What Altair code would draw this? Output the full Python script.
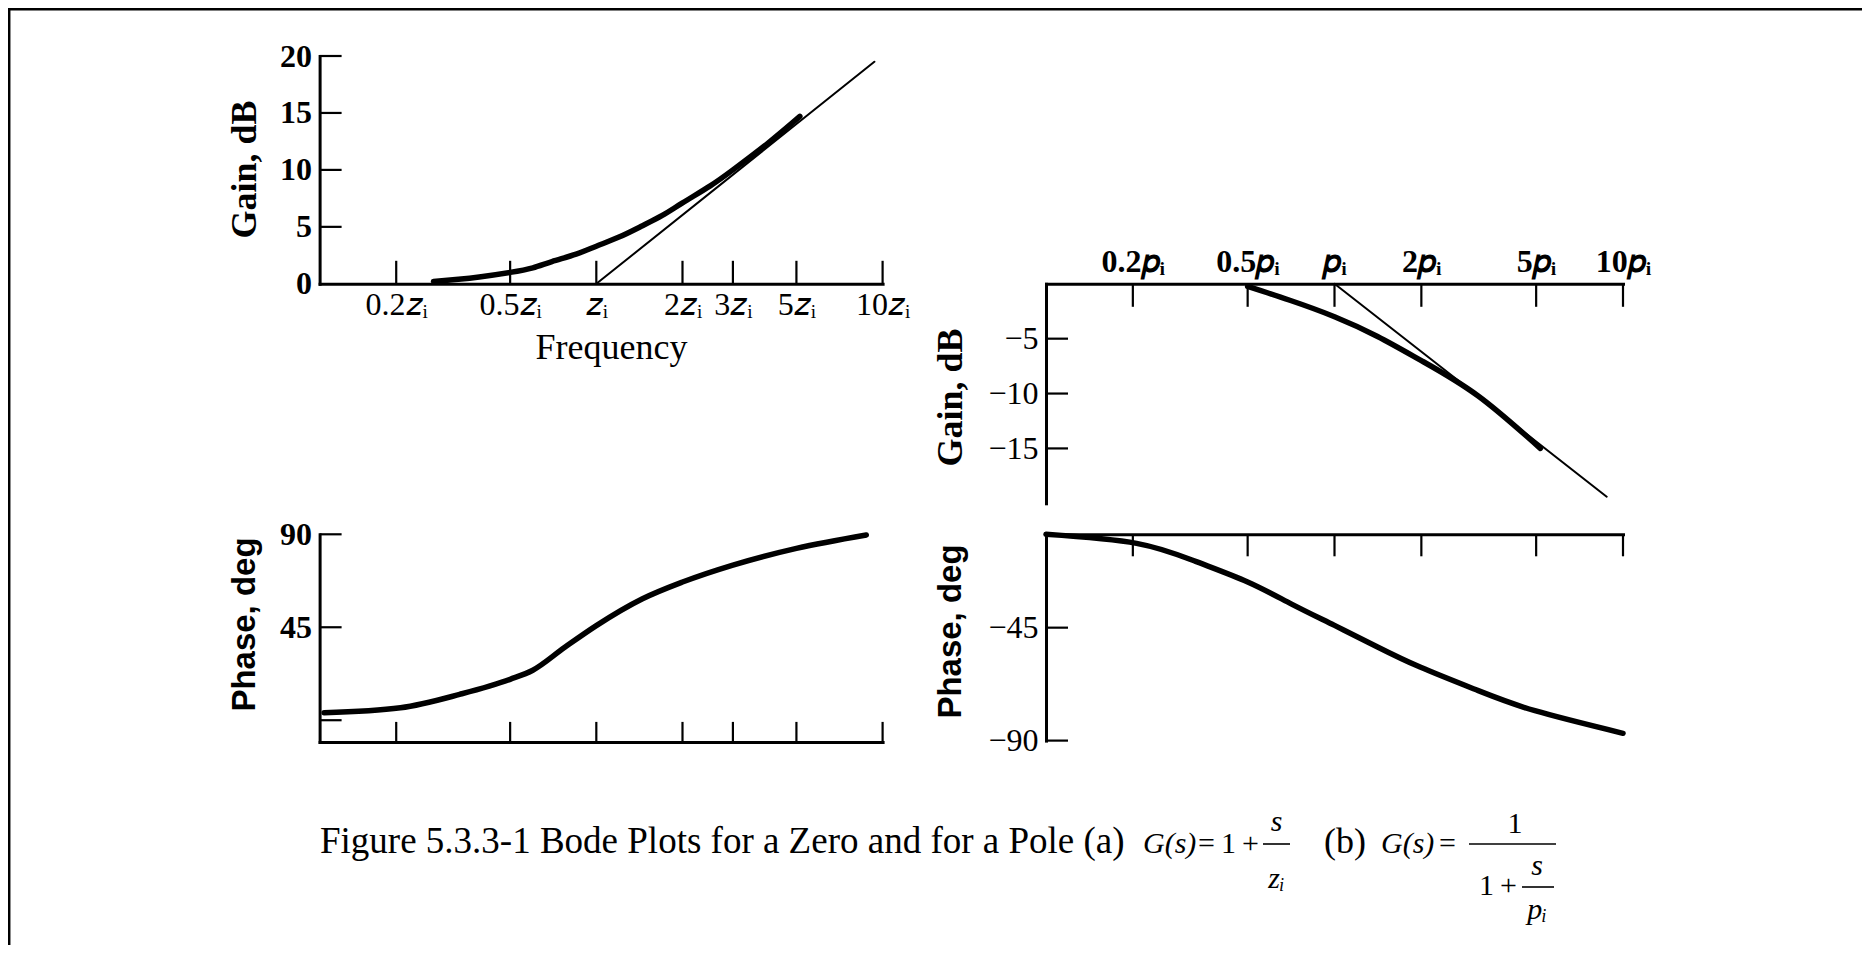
import json
import altair as alt
import pandas as pd

W, H = 1854, 937

# ---------------- values ----------------
# (a) zero: gain curve and asymptote
zero_gain_f = [0.27, 0.33, 0.39, 0.5, 0.6, 0.7, 0.85, 1.0, 1.2, 1.45, 1.7, 2.0, 2.5, 3.0, 4.0, 5.14]
zero_gain_db = [0.2, 0.4, 0.6, 1.0, 1.4, 1.95, 2.6, 3.3, 4.1, 5.1, 6.0, 7.1, 8.6, 10.0, 12.4, 14.7]
zero_asym_f = [1.0, 9.36]
zero_asym_db = [0.0, 19.5]
# (a) zero: phase curve
zero_phase_f = [0.112, 0.207, 0.333, 0.5, 0.6, 0.776, 1.0, 1.45, 2.0, 3.0, 5.0, 8.77]
zero_phase_deg = [3.6, 6.0, 12.5, 19.8, 24.2, 35.3, 45.8, 58.8, 66.9, 75.1, 83.2, 89.7]
# (b) pole: gain curve and asymptote
pole_gain_f = [0.5, 0.7, 1.0, 1.41, 2.0, 3.14, 5.17]
pole_gain_db = [-0.24, -1.5, -3.0, -4.8, -7.0, -10.2, -15.0]
pole_asym_f = [1.0, 8.78]
pole_asym_db = [0.0, -19.4]
# (b) pole: phase curve
pole_phase_f = [0.1, 0.206, 0.33, 0.5, 0.71, 1.0, 1.41, 1.98, 3.15, 4.95, 10.0]
pole_phase_deg = [-7.8, -11.4, -18.6, -26.8, -35.6, -44.1, -52.7, -60.7, -70.1, -78.1, -87.1]

# ticks and tick labels
zero_freq_ticks = [0.2, 0.5, 1, 2, 3, 5, 10]
zero_freq_labels = ["0.2𝑧ᵢ", "0.5𝑧ᵢ", "𝑧ᵢ", "2𝑧ᵢ", "3𝑧ᵢ", "5𝑧ᵢ", "10𝑧ᵢ"]
pole_freq_ticks = [0.2, 0.5, 1, 2, 5, 10]
pole_freq_labels = ["0.2𝑝ᵢ", "0.5𝑝ᵢ", "𝑝ᵢ", "2𝑝ᵢ", "5𝑝ᵢ", "10𝑝ᵢ"]
zero_gain_ticks = [0, 5, 10, 15, 20]
zero_gain_labels = ["0", "5", "10", "15", "20"]
pole_gain_ticks = [-5, -10, -15]
pole_gain_labels = ["−5", "−10", "−15"]
zero_phase_ticks = [0, 45, 90]
zero_phase_labels = ["", "45", "90"]
pole_phase_ticks = [-45, -90]
pole_phase_labels = ["−45", "−90"]

# caption texts
caption_main = ["Figure 5.3.3-1 Bode Plots for a Zero and for a Pole (a)"]
caption_gs = ["G(s)"]
caption_eq_a = ["=\u20091\u2009+"]
caption_num_a = ["s"]
caption_den_a = ["zᵢ"]
caption_b = ["(b)"]
caption_eq_b = ["="]
caption_num_b = ["1"]
caption_den_b = ["1\u2009+"]
caption_num_c = ["s"]
caption_den_c = ["pᵢ"]

SERIF = "Liberation Serif"
SANS = "Liberation Sans"
BLACK = "black"


def lab_expr(vals, labs):
    return "%s[indexof(%s, datum.value)]" % (
        json.dumps(labs, ensure_ascii=False), json.dumps(vals))


def axis(orient, offset, vals, labs, label_size=32, label_weight="normal",
         label_pad=6, labels=True, title=None, title_font=SERIF,
         title_size=34, title_weight="bold", title_x=None, title_y=None):
    kw = dict(orient=orient, offset=offset, values=vals, ticks=False, tickSize=0,
              domain=True, domainColor=BLACK, domainWidth=3, domainCap="square",
              grid=False, labels=labels, labelFont=SERIF, labelFontSize=label_size,
              labelFontWeight=label_weight, labelColor=BLACK, labelPadding=label_pad,
              labelOverlap=False, labelFlush=False, labelBound=False)
    if labels:
        kw["labelExpr"] = lab_expr(vals, labs)
    if title is None:
        kw["title"] = None
    else:
        kw.update(title=title, titleFont=title_font, titleFontSize=title_size,
                  titleFontWeight=title_weight, titleColor=BLACK,
                  titleX=title_x, titleY=title_y, titleBaseline="middle",
                  titleAlign="center")
        if orient in ("left", "right"):
            kw["titleAngle"] = 270
    return alt.Axis(**kw)


def line_layer(fs, vs, xsc, ysc, xax, yax, width, interp="monotone"):
    df = pd.DataFrame({"f": fs, "v": vs})
    return alt.Chart(df).mark_line(color=BLACK, strokeWidth=width,
                                   interpolate=interp, strokeCap="round").encode(
        x=alt.X("f:Q", scale=xsc, axis=xax),
        y=alt.Y("v:Q", scale=ysc, axis=yax),
    )


def xtick_layer(vals, xsc, y0, y1):
    df = pd.DataFrame({"f": vals})
    return alt.Chart(df).mark_rule(color=BLACK, strokeWidth=2.2).encode(
        x=alt.X("f:Q", scale=xsc), y=alt.value(y0), y2=alt.value(y1))


def ytick_layer(vals, ysc, x0, x1):
    df = pd.DataFrame({"v": vals})
    return alt.Chart(df).mark_rule(color=BLACK, strokeWidth=2.2).encode(
        y=alt.Y("v:Q", scale=ysc), x=alt.value(x0), x2=alt.value(x1))


# ---------------- panel geometry (pixels inside the chart) ----------------
XL0, XL1 = 311.6, 874.6       # left column x range
XR0, XR1 = 1038.0, 1615.0     # right column x range
TL_Y0, TL_Y1 = 275.8, 48.0    # 0 dB .. 20 dB
TR_Y0, TR_Y1 = 495.3, 275.8   # -20 dB .. 0 dB
BL_Y0, BL_Y1 = 733.9, 526.3   # -10.5 .. 90 deg
BR_Y0, BR_Y1 = 732.6, 526.3   # -90 .. -7.8 deg

xs_z = alt.Scale(type="log", domain=[0.108, 10], range=[XL0, XL1])
xs_p = alt.Scale(type="log", domain=[0.1, 10], range=[XR0, XR1])
ys_tl = alt.Scale(domain=[0, 20], range=[TL_Y0, TL_Y1])
ys_tr = alt.Scale(domain=[-20, 0], range=[TR_Y0, TR_Y1])
ys_bl = alt.Scale(domain=[-10.5, 90], range=[BL_Y0, BL_Y1])
ys_br = alt.Scale(domain=[-90, -7.8], range=[BR_Y0, BR_Y1])

# ---- top-left: gain of a zero ----
tl_x = axis("bottom", TL_Y0 - H, zero_freq_ticks, zero_freq_labels, label_size=32,
            label_pad=6, title="Frequency", title_size=36, title_weight="normal",
            title_x=603, title_y=64)
tl_y = axis("left", -XL0, zero_gain_ticks, zero_gain_labels, label_size=32,
            label_weight="bold", label_pad=8, title="Gain, dB", title_size=36,
            title_x=-75, title_y=161)
tl = alt.layer(
    line_layer(zero_gain_f, zero_gain_db, xs_z, ys_tl, tl_x, tl_y, 5.5, "natural"),
    line_layer(zero_asym_f, zero_asym_db, xs_z, ys_tl, tl_x, tl_y, 2, "linear"),
    xtick_layer(zero_freq_ticks, xs_z, TL_Y0, TL_Y0 - 23),
    ytick_layer(zero_gain_ticks[1:], ys_tl, XL0, XL0 + 22),
)

# ---- top-right: gain of a pole ----
tr_x = axis("top", -TR_Y1, pole_freq_ticks, pole_freq_labels, label_size=32,
            label_weight="bold", label_pad=5)
tr_y = axis("left", -XR0, pole_gain_ticks, pole_gain_labels, label_size=32,
            label_pad=8, title="Gain, dB", title_size=36, title_x=-95.5, title_y=389)
tr = alt.layer(
    line_layer(pole_gain_f, pole_gain_db, xs_p, ys_tr, tr_x, tr_y, 5.5, "natural"),
    line_layer(pole_asym_f, pole_asym_db, xs_p, ys_tr, tr_x, tr_y, 2, "linear"),
    xtick_layer(pole_freq_ticks, xs_p, TR_Y1, TR_Y1 + 23),
    ytick_layer(pole_gain_ticks, ys_tr, XR0, XR0 + 22),
)

# ---- bottom-left: phase of a zero ----
bl_x = axis("bottom", BL_Y0 - H, zero_freq_ticks, zero_freq_labels, labels=False)
bl_y = axis("left", -XL0, zero_phase_ticks, zero_phase_labels, label_size=32,
            label_weight="bold", label_pad=8, title="Phase, deg", title_font=SANS,
            title_size=33, title_x=-75, title_y=616)
bl = alt.layer(
    line_layer(zero_phase_f, zero_phase_deg, xs_z, ys_bl, bl_x, bl_y, 5.5),
    xtick_layer(zero_freq_ticks, xs_z, BL_Y0, BL_Y0 - 20),
    ytick_layer(zero_phase_ticks, ys_bl, XL0, XL0 + 22),
)

# ---- bottom-right: phase of a pole ----
br_x = axis("top", -BR_Y1, pole_freq_ticks, pole_freq_labels, labels=False)
br_y = axis("left", -XR0, pole_phase_ticks, pole_phase_labels, label_size=32,
            label_pad=8, title="Phase, deg", title_font=SANS, title_size=33,
            title_x=-95.5, title_y=623)
br = alt.layer(
    line_layer(pole_phase_f, pole_phase_deg, xs_p, ys_br, br_x, br_y, 5.5, "natural"),
    xtick_layer(pole_freq_ticks, xs_p, BR_Y1, BR_Y1 + 22),
    ytick_layer(pole_phase_ticks, ys_br, XR0, XR0 + 22),
)


# ---------------- caption ----------------
def txt(values, x, y, size, style="normal", align="left"):
    df = pd.DataFrame({"t": values})
    return alt.Chart(df).mark_text(font=SERIF, fontSize=size, fontStyle=style,
                                   align=align, baseline="alphabetic",
                                   color=BLACK).encode(
        text="t:N", x=alt.value(x), y=alt.value(y))


def bar(x0, x1, y, w=1.6):
    df = pd.DataFrame({"t": ["bar"]})
    return alt.Chart(df).mark_rule(color=BLACK, strokeWidth=w).encode(
        x=alt.value(x0), x2=alt.value(x1), y=alt.value(y))


BASE = 845
FS = 30
caption = [
    txt(caption_main, 312, BASE, 37),
    txt(caption_gs, 1135, BASE, FS, "italic"),
    txt(caption_eq_a, 1190, BASE, FS),
    bar(1255, 1282, 836),
    txt(caption_num_a, 1268.5, 823, FS, "italic", "center"),
    txt(caption_den_a, 1268.5, 880, FS, "italic", "center"),
    txt(caption_b, 1316, BASE, 36),
    txt(caption_gs, 1373, BASE, FS, "italic"),
    txt(caption_eq_b, 1431, BASE, FS),
    bar(1461, 1548, 836),
    txt(caption_num_b, 1507, 825, FS, "normal", "center"),
    txt(caption_den_b, 1471, 887, FS),
    bar(1514, 1546, 879),
    txt(caption_num_c, 1529, 867, FS, "italic", "center"),
    txt(caption_den_c, 1529, 911, FS, "italic", "center"),
]

frame = [
    alt.Chart(pd.DataFrame({"t": ["frame"]})).mark_rule(color=BLACK, strokeWidth=2.5).encode(
        x=alt.value(1.2), y=alt.value(0), y2=alt.value(H)),
    alt.Chart(pd.DataFrame({"t": ["frame"]})).mark_rule(color=BLACK, strokeWidth=2.5).encode(
        x=alt.value(0), x2=alt.value(W), y=alt.value(1.2)),
]

chart = alt.layer(tl, tr, bl, br, *caption, *frame).resolve_scale(
    x="independent", y="independent"
).resolve_axis(
    x="independent", y="independent"
).properties(
    width=W, height=H, padding=0, autosize=alt.AutoSizeParams(type="none"),
    background="white"
).configure_view(strokeWidth=0)

chart.save("out.html", embed_options={"renderer": "svg", "actions": False})
